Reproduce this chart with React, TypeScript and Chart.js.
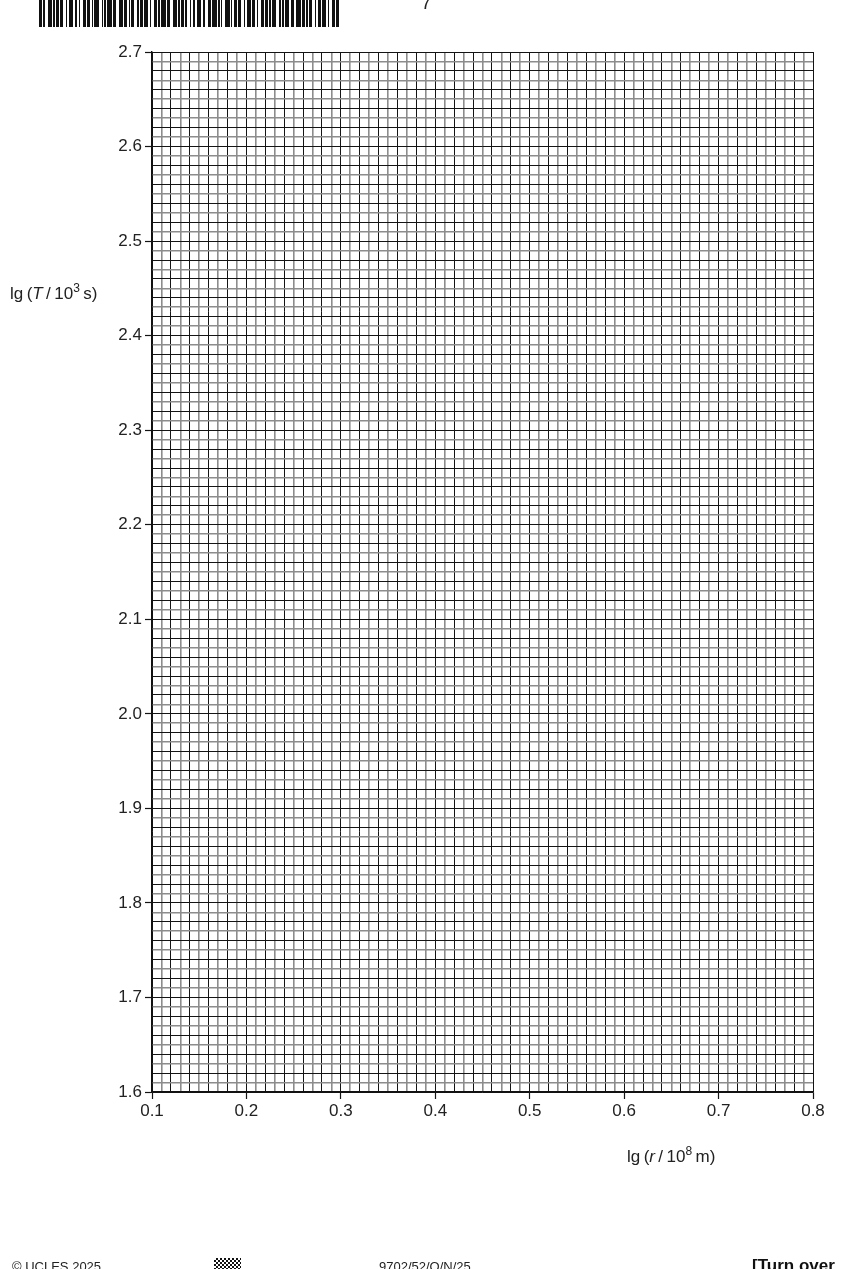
import { useEffect, useRef } from "react";
import { Chart, registerables } from "chart.js";

Chart.register(...registerables);

// axis values
const xTicks = [0.1, 0.2, 0.3, 0.4, 0.5, 0.6, 0.7, 0.8];
const yTicks = [1.6, 1.7, 1.8, 1.9, 2.0, 2.1, 2.2, 2.3, 2.4, 2.5, 2.6, 2.7];
const minorStep = 0.01;
// blank grid: nothing plotted yet
const points: { x: number; y: number }[] = [];

const FONT = "'Liberation Sans', Arial, Helvetica, sans-serif";
const DARK = "#141414";
const LIGHT = "#8c8c8c";

// barcode strip at the top of the page (1 = bar, 0 = space)
const barGroups = [
  "1101", "11101011011", "1011101101", "11011010111", "1010111011", "11101101011",
  "1011011101", "11010111011", "1110101101", "10110111011", "1101110101", "11101011011",
  "1011101101", "11011010111", "1010111011", "11101101011", "1011011101", "11011",
];

const label = (list: number[], v: number) => {
  const hit = list.find((t) => Math.abs(t - v) < 1e-6);
  return hit === undefined ? "" : hit.toFixed(1);
};
const stepIndex = (v: number) => Math.round(v / minorStep);

function Barcode() {
  const bits = barGroups.join("00").split("");
  return (
    <div style={{ position: "absolute", left: 39, top: 0, width: 301, height: 27, display: "flex" }}>
      {bits.map((b, i) => (
        <div key={i} style={{ flex: 1, height: 27, background: b === "1" ? "#111" : "transparent" }} />
      ))}
    </div>
  );
}

function GraphPaper() {
  const canvasRef = useRef<HTMLCanvasElement | null>(null);

  useEffect(() => {
    if (!canvasRef.current) return;

    const gridFor = () => ({
      color: (c: any) => (stepIndex(c.tick?.value ?? 0) % 2 === 0 ? DARK : LIGHT),
      lineWidth: (c: any) => (stepIndex(c.tick?.value ?? 0) % 2 === 0 ? 1 : 1.6),
      tickColor: (c: any) => (stepIndex(c.tick?.value ?? 0) % 10 === 0 ? DARK : "rgba(0,0,0,0)"),
      tickWidth: 1.2,
      tickLength: 7,
    });

    const chart = new Chart(canvasRef.current, {
      type: "scatter",
      data: {
        datasets: [{ data: points, pointRadius: 3, backgroundColor: "#000" }],
      },
      options: {
        responsive: false,
        animation: false,
        layout: { padding: { top: 52, right: 39, bottom: 137, left: 0 } },
        plugins: { legend: { display: false }, tooltip: { enabled: false } },
        scales: {
          x: {
            type: "linear",
            min: xTicks[0],
            max: xTicks[xTicks.length - 1],
            afterFit: (s: any) => {
              s.height = 40;
            },
            border: { display: true, color: "#111", width: 1.4 },
            grid: gridFor(),
            ticks: {
              stepSize: minorStep,
              autoSkip: false,
              maxRotation: 0,
              minRotation: 0,
              padding: 2,
              color: "#222",
              font: { family: FONT, size: 17 },
              callback: (v: any) => label(xTicks, Number(v)),
            },
          },
          y: {
            type: "linear",
            min: yTicks[0],
            max: yTicks[yTicks.length - 1],
            afterFit: (s: any) => {
              s.width = 152;
            },
            border: { display: true, color: "#111", width: 1.4 },
            grid: gridFor(),
            ticks: {
              stepSize: minorStep,
              autoSkip: false,
              padding: 3,
              color: "#222",
              font: { family: FONT, size: 17 },
              callback: (v: any) => label(yTicks, Number(v)),
            },
          },
        },
      },
    });

    return () => chart.destroy();
  }, []);

  return <canvas ref={canvasRef} width={852} height={1269} style={{ position: "absolute", left: 0, top: 0, width: 852, height: 1269 }} />;
}

export default function App() {
  const text = { position: "absolute" as const, fontFamily: FONT, color: "#222", whiteSpace: "nowrap" as const };
  return (
    <div style={{ position: "absolute", left: 0, top: 0, width: 852, height: 1269, overflow: "hidden", background: "#fff" }}>
      <GraphPaper />
      <Barcode />
      <div style={{ ...text, left: 421, top: -8, fontSize: 19 }}>7</div>

      <div style={{ ...text, left: 10, top: 281, fontSize: 17 }}>
        lg&#8201;(<i>T</i>&#8201;/&#8201;10<sup style={{ fontSize: 12 }}>3</sup>&#8201;s)
      </div>
      <div style={{ ...text, left: 627, top: 1144, fontSize: 17 }}>
        lg&#8201;(<i>r</i>&#8201;/&#8201;10<sup style={{ fontSize: 12 }}>8</sup>&#8201;m)
      </div>

      <div style={{ ...text, left: 12, top: 1259, fontSize: 13 }}>© UCLES 2025</div>
      <div
        style={{
          position: "absolute",
          left: 214,
          top: 1258,
          width: 27,
          height: 12,
          background: "repeating-conic-gradient(#111 0% 25%, #fff 0% 50%) 0 0 / 4px 4px",
        }}
      />
      <div style={{ ...text, left: 379, top: 1259, fontSize: 13 }}>9702/52/O/N/25</div>
      <div style={{ ...text, left: 752, top: 1256, fontSize: 17, fontWeight: "bold", color: "#111" }}>[Turn over</div>
    </div>
  );
}
